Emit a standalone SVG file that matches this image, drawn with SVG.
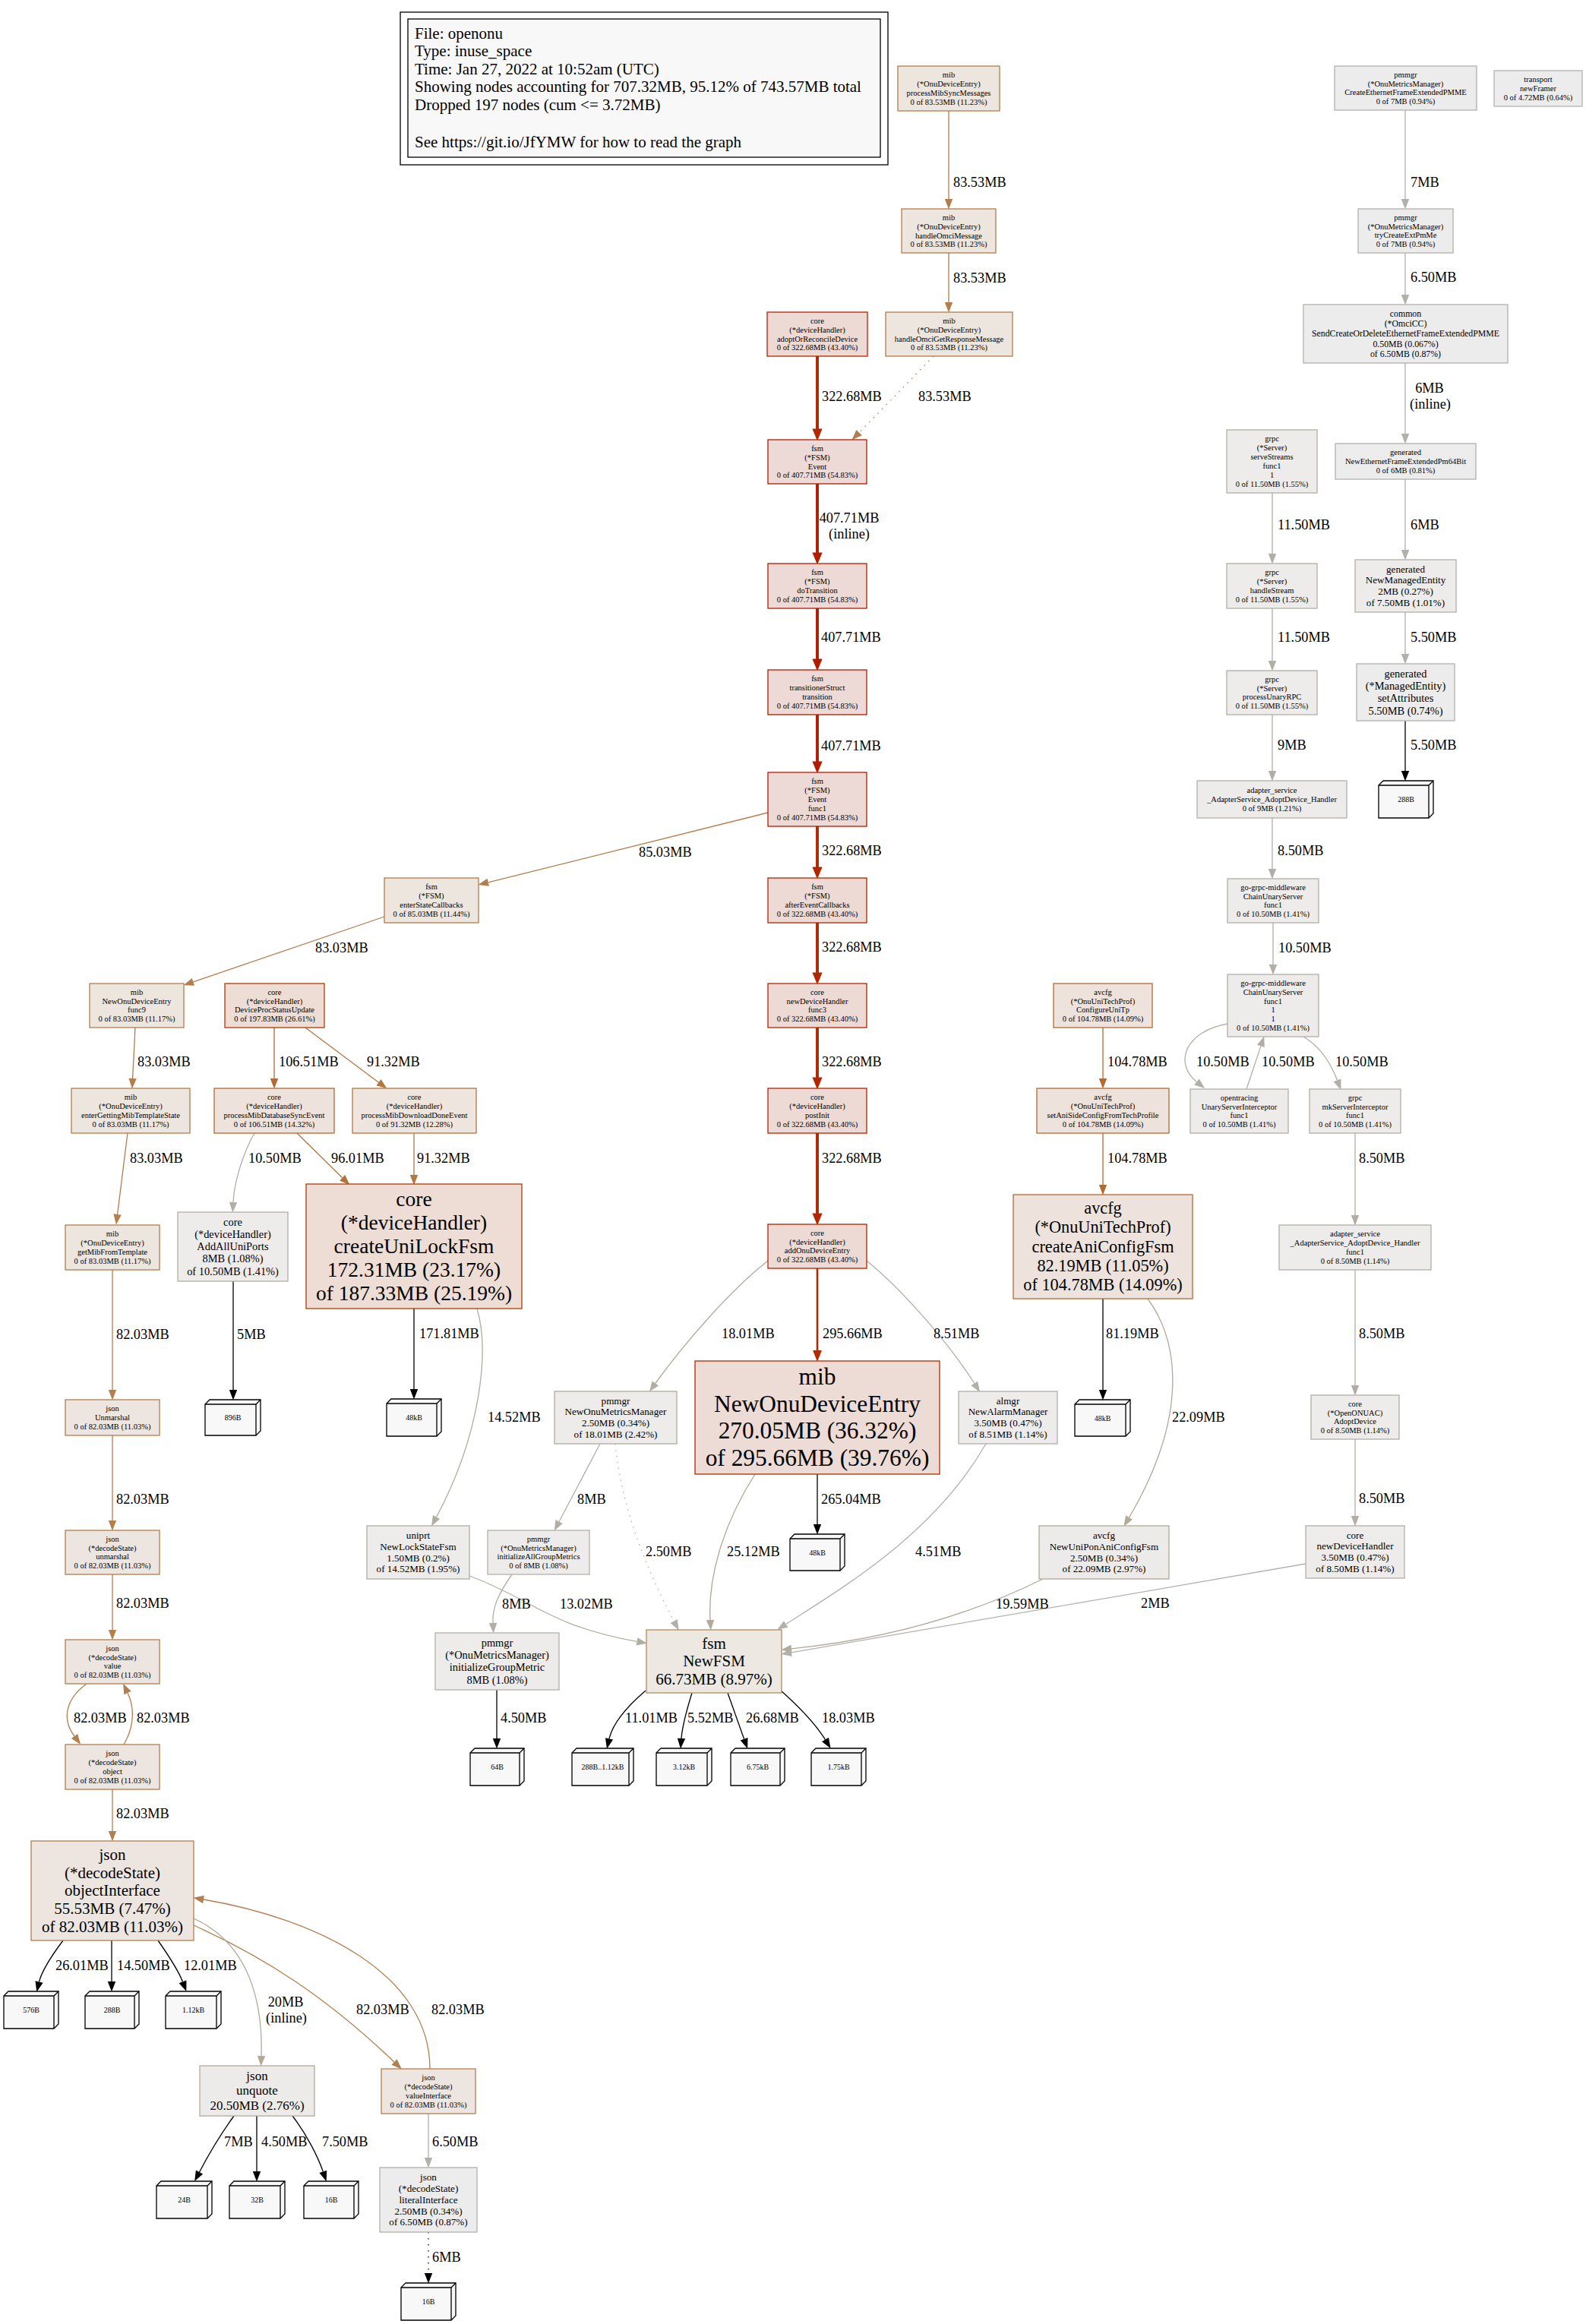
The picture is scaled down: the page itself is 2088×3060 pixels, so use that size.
<svg xmlns="http://www.w3.org/2000/svg" width="2088" height="3060" viewBox="0 0 2088 3060">
<style>
text{font-family:"Liberation Serif","Times New Roman",serif;fill:#000}
.n text{text-anchor:middle}
.n rect{stroke-width:1.31}
.f8{font-size:10.5px}.f9{font-size:11.8px}.f10{font-size:13.1px}.f11{font-size:14.4px}.f13{font-size:17px}.f16{font-size:21px}.f17{font-size:22.3px}.f21{font-size:27.5px}.f24{font-size:31.4px}
.lf{fill:#f8f8f8;stroke:#000;stroke-width:1.31;stroke-linejoin:miter}
.lfl{fill:none;stroke:#000;stroke-width:1.31}
.lt{font-size:10px;text-anchor:middle}
.e{fill:none;stroke-width:1.31}
.r3{stroke-width:3.9}
.r2{stroke-width:2.6}
.dot{stroke-dasharray:1.5 6.5}
.el{font-size:18.3px}
.elm{font-size:18.3px;text-anchor:middle}
.leg{font-size:21px}
</style>
<defs>
<marker id="mR1" viewBox="-2 -7 17 14" markerWidth="17" markerHeight="14" refX="0" refY="0" orient="auto" markerUnits="userSpaceOnUse" overflow="visible"><path d="M-1.5,-6.6 L14.5,0 L-1.5,6.6 Z" fill="#b21d00"/></marker>
<marker id="mR2" viewBox="-2 -7 17 14" markerWidth="17" markerHeight="14" refX="0" refY="0" orient="auto" markerUnits="userSpaceOnUse" overflow="visible"><path d="M-1.5,-6.6 L14.5,0 L-1.5,6.6 Z" fill="#b22700"/></marker>
<marker id="mR3" viewBox="-1 -6 15 12" markerWidth="15" markerHeight="12" refX="0" refY="0" orient="auto" markerUnits="userSpaceOnUse" overflow="visible"><path d="M-1,-5.9 L14,0 L-1,5.9 Z" fill="#b22b00"/></marker>
<marker id="mB1" viewBox="0 -6 14 12" markerWidth="14" markerHeight="12" refX="0" refY="0" orient="auto" markerUnits="userSpaceOnUse" overflow="visible"><path d="M0,-5.2 L13.6,0 L0,5.2 Z" fill="#b26b32"/></marker>
<marker id="mB2" viewBox="0 -6 14 12" markerWidth="14" markerHeight="12" refX="0" refY="0" orient="auto" markerUnits="userSpaceOnUse" overflow="visible"><path d="M0,-5.2 L13.6,0 L0,5.2 Z" fill="#b2743f"/></marker>
<marker id="mB3" viewBox="0 -6 14 12" markerWidth="14" markerHeight="12" refX="0" refY="0" orient="auto" markerUnits="userSpaceOnUse" overflow="visible"><path d="M0,-5.2 L13.6,0 L0,5.2 Z" fill="#b27844"/></marker>
<marker id="mB4" viewBox="0 -6 14 12" markerWidth="14" markerHeight="12" refX="0" refY="0" orient="auto" markerUnits="userSpaceOnUse" overflow="visible"><path d="M0,-5.2 L13.6,0 L0,5.2 Z" fill="#b27e4e"/></marker>
<marker id="mB5" viewBox="0 -6 14 12" markerWidth="14" markerHeight="12" refX="0" refY="0" orient="auto" markerUnits="userSpaceOnUse" overflow="visible"><path d="M0,-5.2 L13.6,0 L0,5.2 Z" fill="#b27f50"/></marker>
<marker id="mG1" viewBox="0 -6 14 12" markerWidth="14" markerHeight="12" refX="0" refY="0" orient="auto" markerUnits="userSpaceOnUse" overflow="visible"><path d="M0,-5.2 L13.6,0 L0,5.2 Z" fill="#b2a998"/></marker>
<marker id="mG2" viewBox="0 -6 14 12" markerWidth="14" markerHeight="12" refX="0" refY="0" orient="auto" markerUnits="userSpaceOnUse" overflow="visible"><path d="M0,-5.2 L13.6,0 L0,5.2 Z" fill="#b2ada1"/></marker>
<marker id="mG3" viewBox="0 -6 14 12" markerWidth="14" markerHeight="12" refX="0" refY="0" orient="auto" markerUnits="userSpaceOnUse" overflow="visible"><path d="M0,-5.2 L13.6,0 L0,5.2 Z" fill="#b2aea5"/></marker>
<marker id="mG4" viewBox="0 -6 14 12" markerWidth="14" markerHeight="12" refX="0" refY="0" orient="auto" markerUnits="userSpaceOnUse" overflow="visible"><path d="M0,-5.2 L13.6,0 L0,5.2 Z" fill="#b2b0ab"/></marker>
<marker id="mK" viewBox="0 -6 14 12" markerWidth="14" markerHeight="12" refX="0" refY="0" orient="auto" markerUnits="userSpaceOnUse" overflow="visible"><path d="M0,-5.2 L13.6,0 L0,5.2 Z" fill="#000"/></marker>
</defs>
<rect x="0" y="0" width="2088" height="3060" fill="#fff"/>

<g id="legend">
<rect x="527" y="16" width="642" height="201" fill="none" stroke="#000" stroke-width="1.31"/>
<rect x="537" y="25" width="622" height="182" fill="#f8f8f8" stroke="#000" stroke-width="1.31"/>
<text class="leg"><tspan x="546" y="51">File: openonu</tspan><tspan x="546" y="74">Type: inuse_space</tspan><tspan x="546" y="98">Time: Jan 27, 2022 at 10:52am (UTC)</tspan><tspan x="546" y="121">Showing nodes accounting for 707.32MB, 95.12% of 743.57MB total</tspan><tspan x="546" y="145">Dropped 197 nodes (cum &lt;= 3.72MB)</tspan><tspan x="546" y="194">See https://git.io/JfYMW for how to read the graph</tspan></text>
</g>

<g id="edges">
<path class="e" d="M1249,146 V262" stroke="#b27e4e" marker-end="url(#mB4)"/>
<path class="e" d="M1249,333 V398" stroke="#b27e4e" marker-end="url(#mB4)"/>
<path class="e dot" d="M1229,469 L1131.1,569.6" stroke="#b27e4e" marker-end="url(#mB4)"/>
<path class="e r3" d="M1076,469 V566" stroke="#b22700" marker-end="url(#mR2)"/>
<path class="e r3" d="M1076,637 V729" stroke="#b21d00" marker-end="url(#mR1)"/>
<path class="e r3" d="M1076,801 V869" stroke="#b21d00" marker-end="url(#mR1)"/>
<path class="e r3" d="M1076,941 V1004" stroke="#b21d00" marker-end="url(#mR1)"/>
<path class="e r3" d="M1076,1088 V1143" stroke="#b22700" marker-end="url(#mR2)"/>
<path class="e r3" d="M1076,1215 V1282" stroke="#b22700" marker-end="url(#mR2)"/>
<path class="e r3" d="M1076,1353 V1420" stroke="#b22700" marker-end="url(#mR2)"/>
<path class="e r3" d="M1076,1492 V1599" stroke="#b22700" marker-end="url(#mR2)"/>
<path class="e" d="M1011,1070 L642.7,1161.8" stroke="#b27d4c" marker-end="url(#mB4)"/>
<path class="e" d="M506,1207 L254.4,1292.8" stroke="#b27e4f" marker-end="url(#mB4)"/>
<path class="e" d="M178,1353 L174.6,1420" stroke="#b27e4f" marker-end="url(#mB4)"/>
<path class="e" d="M168,1492 L154.6,1599" stroke="#b27e4f" marker-end="url(#mB4)"/>
<path class="e" d="M361,1353 V1420" stroke="#b26b32" marker-end="url(#mB1)"/>
<path class="e" d="M402,1353 L498.5,1425.2" stroke="#b27844" marker-end="url(#mB3)"/>
<path class="e" d="M335,1492 C318,1522 308,1560 307,1583" stroke="#b2aea5" marker-end="url(#mG3)"/>
<path class="e" d="M391,1492 L450.7,1550.8" stroke="#b2743f" marker-end="url(#mB2)"/>
<path class="e" d="M545,1492 V1547" stroke="#b27844" marker-end="url(#mB3)"/>
<path class="e" d="M148,1672 V1830" stroke="#b27f50" marker-end="url(#mB5)"/>
<path class="e" d="M148,1890 V2002" stroke="#b27f50" marker-end="url(#mB5)"/>
<path class="e" d="M148,2073 V2146" stroke="#b27f50" marker-end="url(#mB5)"/>
<path class="e" d="M114,2217 C88,2236 80,2262 98,2286" stroke="#b27f50" marker-end="url(#mB5)"/>
<path class="e" d="M163,2297 C176,2275 178,2250 168,2229" stroke="#b27f50" marker-end="url(#mB5)"/>
<path class="e" d="M148,2356 V2411" stroke="#b27f50" marker-end="url(#mB5)"/>
<path class="e" d="M255,2535 C350,2578 430,2630 519,2715" stroke="#b27f50" marker-end="url(#mB5)"/>
<path class="e" d="M566,2724 C566,2600 420,2527 268,2501" stroke="#b27f50" marker-end="url(#mB5)"/>
<path class="e" d="M255,2526 C330,2560 346,2640 344,2707" stroke="#b2aa9a" marker-end="url(#mG1)"/>
<path class="e" d="M564,2783 V2841" stroke="#b2b0ab" marker-end="url(#mG4)"/>
<path class="e dot" d="M564,2939 V2993" stroke="#000" marker-end="url(#mK)"/>
<path class="e" d="M83,2555 C68,2575 55,2595 51.5,2609.5" stroke="#000" marker-end="url(#mK)"/>
<path class="e" d="M147,2555 V2609" stroke="#000" marker-end="url(#mK)"/>
<path class="e" d="M208,2555 C222,2575 235,2595 240.5,2609.4" stroke="#000" marker-end="url(#mK)"/>
<path class="e" d="M308,2786 C292,2808 274,2838 262.5,2860" stroke="#000" marker-end="url(#mK)"/>
<path class="e" d="M338,2786 V2859" stroke="#000" marker-end="url(#mK)"/>
<path class="e" d="M385,2786 C402,2808 418,2838 425.3,2859.4" stroke="#000" marker-end="url(#mK)"/>
<path class="e" d="M307,1687 V1830" stroke="#000" marker-end="url(#mK)"/>
<path class="e" d="M545,1723 V1829" stroke="#000" marker-end="url(#mK)"/>
<path class="e" d="M628,1723 C645,1780 632,1890 574.5,1997.5" stroke="#b2ada1" marker-end="url(#mG2)"/>
<path class="e" d="M1011,1660 C960,1700 900,1770 862.8,1821.5" stroke="#b2ab9c" marker-end="url(#mG2)"/>
<path class="e r2" d="M1076,1670 V1779" stroke="#b22b00" marker-end="url(#mR3)"/>
<path class="e" d="M1141,1660 C1190,1700 1250,1770 1282.8,1821.5" stroke="#b2afa8" marker-end="url(#mG3)"/>
<path class="e" d="M1076,1941 V2007" stroke="#000" marker-end="url(#mK)"/>
<path class="e" d="M994,1941 C950,2010 932,2080 935,2133" stroke="#b2a794" marker-end="url(#mG1)"/>
<path class="e" d="M1298,1901 C1230,2020 1110,2090 1034.7,2138.5" stroke="#b2b1ad" marker-end="url(#mG4)"/>
<path class="e" d="M790,1901 L736.1,2003.5" stroke="#b2afa9" marker-end="url(#mG3)"/>
<path class="e dot" d="M810,1901 C818,1990 858,2080 887.2,2134.5" stroke="#b2b1af" marker-end="url(#mG4)"/>
<path class="e" d="M674,2073 C655,2100 648,2118 649,2137" stroke="#b2afa9" marker-end="url(#mG3)"/>
<path class="e" d="M618,2075 C700,2105 720,2140 838.5,2161.4" stroke="#b2ada2" marker-end="url(#mG2)"/>
<path class="e" d="M1373,2079 C1250,2140 1130,2162 1042,2170.8" stroke="#b2aa9b" marker-end="url(#mG1)"/>
<path class="e" d="M1719,2059 L1041.9,2175.8" stroke="#b2b1b0" marker-end="url(#mG4)"/>
<path class="e" d="M1511,1710 C1555,1770 1562,1870 1486.5,1998" stroke="#b2a998" marker-end="url(#mG1)"/>
<path class="e" d="M1452,1710 V1830" stroke="#000" marker-end="url(#mK)"/>
<path class="e" d="M1452,1353 V1420" stroke="#b26c34" marker-end="url(#mB1)"/>
<path class="e" d="M1452,1492 V1560" stroke="#b26c34" marker-end="url(#mB1)"/>
<path class="e" d="M654,2225 V2289" stroke="#000" marker-end="url(#mK)"/>
<path class="e" d="M850,2226 C822,2250 806,2272 802,2289.4" stroke="#000" marker-end="url(#mK)"/>
<path class="e" d="M911,2229 C903,2255 898,2275 897,2289" stroke="#000" marker-end="url(#mK)"/>
<path class="e" d="M958,2229 L979.6,2289.7" stroke="#000" marker-end="url(#mK)"/>
<path class="e" d="M1027,2225 C1055,2250 1075,2272 1086.5,2290.6" stroke="#000" marker-end="url(#mK)"/>
<path class="e" d="M1850,145 V262" stroke="#b2b0aa" marker-end="url(#mG4)"/>
<path class="e" d="M1850,333 V388" stroke="#b2b0ab" marker-end="url(#mG4)"/>
<path class="e" d="M1850,478 V571" stroke="#b2b0ac" marker-end="url(#mG4)"/>
<path class="e" d="M1850,631 V724" stroke="#b2b0ac" marker-end="url(#mG4)"/>
<path class="e" d="M1850,806 V861" stroke="#b2b0ac" marker-end="url(#mG4)"/>
<path class="e" d="M1850,949 V1015" stroke="#000" marker-end="url(#mK)"/>
<path class="e" d="M1675,649 V729" stroke="#b2aea4" marker-end="url(#mG3)"/>
<path class="e" d="M1675,801 V870" stroke="#b2aea4" marker-end="url(#mG3)"/>
<path class="e" d="M1675,941 V1015" stroke="#b2afa7" marker-end="url(#mG3)"/>
<path class="e" d="M1675,1077 V1144" stroke="#b2afa8" marker-end="url(#mG3)"/>
<path class="e" d="M1676,1215 V1270" stroke="#b2aea5" marker-end="url(#mG3)"/>
<path class="e" d="M1616,1348 C1560,1358 1545,1400 1575.5,1424.5" stroke="#b2aea5" marker-end="url(#mG3)"/>
<path class="e" d="M1641,1434 L1659.9,1377.4" stroke="#b2aea5" marker-end="url(#mG3)"/>
<path class="e" d="M1716,1365 C1738,1378 1752,1400 1760.5,1422.3" stroke="#b2aea5" marker-end="url(#mG3)"/>
<path class="e" d="M1784,1492 V1600" stroke="#b2afa8" marker-end="url(#mG3)"/>
<path class="e" d="M1784,1672 V1824" stroke="#b2afa8" marker-end="url(#mG3)"/>
<path class="e" d="M1784,1895 V1996" stroke="#b2afa8" marker-end="url(#mG3)"/>

<text class="el" x="1255" y="246">83.53MB</text>
<text class="el" x="1255" y="372">83.53MB</text>
<text class="el" x="1209" y="528">83.53MB</text>
<text class="el" x="1082" y="528">322.68MB</text>
<text class="elm"><tspan x="1118" y="688">407.71MB</tspan><tspan x="1118" y="709">(inline)</tspan></text>
<text class="el" x="1081" y="845">407.71MB</text>
<text class="el" x="1081" y="988">407.71MB</text>
<text class="el" x="1082" y="1126">322.68MB</text>
<text class="el" x="1082" y="1253">322.68MB</text>
<text class="el" x="1082" y="1404">322.68MB</text>
<text class="el" x="1082" y="1531">322.68MB</text>
<text class="el" x="841" y="1128">85.03MB</text>
<text class="el" x="415" y="1254">83.03MB</text>
<text class="el" x="181" y="1404">83.03MB</text>
<text class="el" x="171" y="1531">83.03MB</text>
<text class="el" x="367" y="1404">106.51MB</text>
<text class="el" x="483" y="1404">91.32MB</text>
<text class="el" x="327" y="1531">10.50MB</text>
<text class="el" x="436" y="1531">96.01MB</text>
<text class="el" x="549" y="1531">91.32MB</text>
<text class="el" x="153" y="1763">82.03MB</text>
<text class="el" x="153" y="1980">82.03MB</text>
<text class="el" x="153" y="2117">82.03MB</text>
<text class="el" x="97" y="2268">82.03MB</text>
<text class="el" x="180" y="2268">82.03MB</text>
<text class="el" x="153" y="2394">82.03MB</text>
<text class="el" x="312" y="1763">5MB</text>
<text class="el" x="552" y="1762">171.81MB</text>
<text class="el" x="950" y="1762">18.01MB</text>
<text class="el" x="1083" y="1762">295.66MB</text>
<text class="el" x="1229" y="1762">8.51MB</text>
<text class="el" x="1456" y="1762">81.19MB</text>
<text class="el" x="1789" y="1762">8.50MB</text>
<text class="el" x="642" y="1872">14.52MB</text>
<text class="el" x="1543" y="1872">22.09MB</text>
<text class="el" x="1081" y="1980">265.04MB</text>
<text class="el" x="760" y="1980">8MB</text>
<text class="el" x="1789" y="1979">8.50MB</text>
<text class="el" x="850" y="2049">2.50MB</text>
<text class="el" x="957" y="2049">25.12MB</text>
<text class="el" x="1205" y="2049">4.51MB</text>
<text class="el" x="661" y="2118">8MB</text>
<text class="el" x="737" y="2118">13.02MB</text>
<text class="el" x="1311" y="2118">19.59MB</text>
<text class="el" x="1502" y="2117">2MB</text>
<text class="el" x="659" y="2268">4.50MB</text>
<text class="el" x="823" y="2268">11.01MB</text>
<text class="el" x="905" y="2268">5.52MB</text>
<text class="el" x="982" y="2268">26.68MB</text>
<text class="el" x="1082" y="2268">18.03MB</text>
<text class="el" x="73" y="2594">26.01MB</text>
<text class="el" x="154" y="2594">14.50MB</text>
<text class="el" x="242" y="2594">12.01MB</text>
<text class="elm"><tspan x="376" y="2642">20MB</tspan><tspan x="377" y="2663">(inline)</tspan></text>
<text class="el" x="469" y="2652">82.03MB</text>
<text class="el" x="568" y="2652">82.03MB</text>
<text class="el" x="295" y="2826">7MB</text>
<text class="el" x="344" y="2826">4.50MB</text>
<text class="el" x="424" y="2826">7.50MB</text>
<text class="el" x="569" y="2826">6.50MB</text>
<text class="el" x="569" y="2978">6MB</text>
<text class="el" x="1857" y="246">7MB</text>
<text class="el" x="1857" y="371">6.50MB</text>
<text class="elm"><tspan x="1882" y="517">6MB</tspan><tspan x="1883" y="538">(inline)</tspan></text>
<text class="el" x="1857" y="697">6MB</text>
<text class="el" x="1857" y="845">5.50MB</text>
<text class="el" x="1857" y="987">5.50MB</text>
<text class="el" x="1682" y="697">11.50MB</text>
<text class="el" x="1682" y="845">11.50MB</text>
<text class="el" x="1682" y="987">9MB</text>
<text class="el" x="1682" y="1126">8.50MB</text>
<text class="el" x="1683" y="1254">10.50MB</text>
<text class="el" x="1575" y="1404">10.50MB</text>
<text class="el" x="1661" y="1404">10.50MB</text>
<text class="el" x="1758" y="1404">10.50MB</text>
<text class="el" x="1789" y="1531">8.50MB</text>
<text class="el" x="1458" y="1404">104.78MB</text>
<text class="el" x="1458" y="1531">104.78MB</text>
</g>

<g id="n-processMibSyncMessages" class="n"><rect x="1182" y="87" width="134" height="59" fill="#ede6df" stroke="#b27e4e"/><text class="f8"><tspan x="1249" y="102">mib</tspan><tspan x="1249" y="114">(*OnuDeviceEntry)</tspan><tspan x="1249" y="126">processMibSyncMessages</tspan><tspan x="1249" y="137.8">0 of 83.53MB (11.23%)</tspan></text></g>
<g id="n-handleOmciMessage" class="n"><rect x="1187" y="275" width="124" height="58" fill="#ede6df" stroke="#b27e4e"/><text class="f8"><tspan x="1249" y="289.5">mib</tspan><tspan x="1249" y="301.5">(*OnuDeviceEntry)</tspan><tspan x="1249" y="313.5">handleOmciMessage</tspan><tspan x="1249" y="325.4">0 of 83.53MB (11.23%)</tspan></text></g>
<g id="n-adoptOrReconcileDevice" class="n"><rect x="1010" y="411" width="132" height="58" fill="#eddad5" stroke="#b22700"/><text class="f8"><tspan x="1076" y="425.5">core</tspan><tspan x="1076" y="437.5">(*deviceHandler)</tspan><tspan x="1076" y="449.5">adoptOrReconcileDevice</tspan><tspan x="1076" y="461.3">0 of 322.68MB (43.40%)</tspan></text></g>
<g id="n-handleOmciGetResponseMessage" class="n"><rect x="1166" y="411" width="167" height="58" fill="#ede6df" stroke="#b27e4e"/><text class="f8"><tspan x="1249.5" y="425.5">mib</tspan><tspan x="1249.5" y="437.5">(*OnuDeviceEntry)</tspan><tspan x="1249.5" y="449.5">handleOmciGetResponseMessage</tspan><tspan x="1249.5" y="461.3">0 of 83.53MB (11.23%)</tspan></text></g>
<g id="n-fsm-Event" class="n"><rect x="1011" y="579" width="130" height="58" fill="#edd9d5" stroke="#b21d00"/><text class="f8"><tspan x="1076" y="593.5">fsm</tspan><tspan x="1076" y="605.5">(*FSM)</tspan><tspan x="1076" y="617.5">Event</tspan><tspan x="1076" y="629.3">0 of 407.71MB (54.83%)</tspan></text></g>
<g id="n-doTransition" class="n"><rect x="1011" y="742" width="130" height="59" fill="#edd9d5" stroke="#b21d00"/><text class="f8"><tspan x="1076" y="757">fsm</tspan><tspan x="1076" y="769">(*FSM)</tspan><tspan x="1076" y="781">doTransition</tspan><tspan x="1076" y="792.8">0 of 407.71MB (54.83%)</tspan></text></g>
<g id="n-transition" class="n"><rect x="1011" y="882" width="130" height="59" fill="#edd9d5" stroke="#b21d00"/><text class="f8"><tspan x="1076" y="897">fsm</tspan><tspan x="1076" y="909">transitionerStruct</tspan><tspan x="1076" y="921">transition</tspan><tspan x="1076" y="932.8">0 of 407.71MB (54.83%)</tspan></text></g>
<g id="n-Event-func1" class="n"><rect x="1011" y="1017" width="130" height="71" fill="#edd9d5" stroke="#b21d00"/><text class="f8"><tspan x="1076" y="1032.1">fsm</tspan><tspan x="1076" y="1044">(*FSM)</tspan><tspan x="1076" y="1055.9">Event</tspan><tspan x="1076" y="1067.8">func1</tspan><tspan x="1076" y="1079.7">0 of 407.71MB (54.83%)</tspan></text></g>
<g id="n-afterEventCallbacks" class="n"><rect x="1011" y="1156" width="130" height="59" fill="#eddad5" stroke="#b22700"/><text class="f8"><tspan x="1076" y="1171">fsm</tspan><tspan x="1076" y="1183">(*FSM)</tspan><tspan x="1076" y="1195">afterEventCallbacks</tspan><tspan x="1076" y="1206.8">0 of 322.68MB (43.40%)</tspan></text></g>
<g id="n-newDeviceHandler-func3" class="n"><rect x="1011" y="1295" width="130" height="58" fill="#eddad5" stroke="#b22700"/><text class="f8"><tspan x="1076" y="1309.5">core</tspan><tspan x="1076" y="1321.5">newDeviceHandler</tspan><tspan x="1076" y="1333.4">func3</tspan><tspan x="1076" y="1345.3">0 of 322.68MB (43.40%)</tspan></text></g>
<g id="n-postInit" class="n"><rect x="1011" y="1433" width="130" height="59" fill="#eddad5" stroke="#b22700"/><text class="f8"><tspan x="1076" y="1448">core</tspan><tspan x="1076" y="1460">(*deviceHandler)</tspan><tspan x="1076" y="1471.9">postInit</tspan><tspan x="1076" y="1483.8">0 of 322.68MB (43.40%)</tspan></text></g>
<g id="n-addOnuDeviceEntry" class="n"><rect x="1011" y="1612" width="130" height="58" fill="#eddad5" stroke="#b22700"/><text class="f8"><tspan x="1076" y="1626.5">core</tspan><tspan x="1076" y="1638.5">(*deviceHandler)</tspan><tspan x="1076" y="1650.4">addOnuDeviceEntry</tspan><tspan x="1076" y="1662.3">0 of 322.68MB (43.40%)</tspan></text></g>
<g id="n-enterStateCallbacks" class="n"><rect x="506" y="1156" width="124" height="59" fill="#ede6df" stroke="#b27d4c"/><text class="f8"><tspan x="568" y="1171">fsm</tspan><tspan x="568" y="1183">(*FSM)</tspan><tspan x="568" y="1195">enterStateCallbacks</tspan><tspan x="568" y="1206.8">0 of 85.03MB (11.44%)</tspan></text></g>
<g id="n-NewOnuDeviceEntry-func9" class="n"><rect x="118" y="1295" width="124" height="58" fill="#ede6df" stroke="#b27e4e"/><text class="f8"><tspan x="180" y="1309.5">mib</tspan><tspan x="180" y="1321.5">NewOnuDeviceEntry</tspan><tspan x="180" y="1333.4">func9</tspan><tspan x="180" y="1345.3">0 of 83.03MB (11.17%)</tspan></text></g>
<g id="n-DeviceProcStatusUpdate" class="n"><rect x="296" y="1295" width="131" height="58" fill="#edddd5" stroke="#b23a00"/><text class="f8"><tspan x="361.5" y="1309.5">core</tspan><tspan x="361.5" y="1321.5">(*deviceHandler)</tspan><tspan x="361.5" y="1333.4">DeviceProcStatusUpdate</tspan><tspan x="361.5" y="1345.3">0 of 197.83MB (26.61%)</tspan></text></g>
<g id="n-enterGettingMibTemplateState" class="n"><rect x="94" y="1433" width="156" height="59" fill="#ede6df" stroke="#b27e4e"/><text class="f8"><tspan x="172" y="1448">mib</tspan><tspan x="172" y="1460">(*OnuDeviceEntry)</tspan><tspan x="172" y="1471.9">enterGettingMibTemplateState</tspan><tspan x="172" y="1483.8">0 of 83.03MB (11.17%)</tspan></text></g>
<g id="n-processMibDatabaseSyncEvent" class="n"><rect x="282" y="1433" width="158" height="59" fill="#ede3dc" stroke="#b26b32"/><text class="f8"><tspan x="361" y="1448">core</tspan><tspan x="361" y="1460">(*deviceHandler)</tspan><tspan x="361" y="1471.9">processMibDatabaseSyncEvent</tspan><tspan x="361" y="1483.8">0 of 106.51MB (14.32%)</tspan></text></g>
<g id="n-processMibDownloadDoneEvent" class="n"><rect x="464" y="1433" width="163" height="59" fill="#ede5de" stroke="#b27844"/><text class="f8"><tspan x="545.5" y="1448">core</tspan><tspan x="545.5" y="1460">(*deviceHandler)</tspan><tspan x="545.5" y="1471.9">processMibDownloadDoneEvent</tspan><tspan x="545.5" y="1483.8">0 of 91.32MB (12.28%)</tspan></text></g>
<g id="n-getMibFromTemplate" class="n"><rect x="86" y="1613" width="124" height="59" fill="#ede6df" stroke="#b27e4e"/><text class="f8"><tspan x="148" y="1628">mib</tspan><tspan x="148" y="1640">(*OnuDeviceEntry)</tspan><tspan x="148" y="1651.9">getMibFromTemplate</tspan><tspan x="148" y="1663.8">0 of 83.03MB (11.17%)</tspan></text></g>
<g id="n-AddAllUniPorts" class="n"><rect x="234" y="1596" width="145" height="91" fill="#edeceb" stroke="#b2aea5"/><text class="f11"><tspan x="306.5" y="1613.6">core</tspan><tspan x="306.5" y="1629.8">(*deviceHandler)</tspan><tspan x="306.5" y="1646.1">AddAllUniPorts</tspan><tspan x="306.5" y="1662.4">8MB (1.08%)</tspan><tspan x="306.5" y="1678.6">of 10.50MB (1.41%)</tspan></text></g>
<g id="n-createUniLockFsm" class="n"><rect x="403" y="1559" width="284" height="164" fill="#edddd5" stroke="#b23c00"/><text class="f21"><tspan x="545" y="1587.6">core</tspan><tspan x="545" y="1618.7">(*deviceHandler)</tspan><tspan x="545" y="1649.8">createUniLockFsm</tspan><tspan x="545" y="1680.9">172.31MB (23.17%)</tspan><tspan x="545" y="1712">of 187.33MB (25.19%)</tspan></text></g>
<g id="n-json-Unmarshal" class="n"><rect x="86" y="1843" width="124" height="47" fill="#ede6e0" stroke="#b27f50"/><text class="f8"><tspan x="148" y="1858">json</tspan><tspan x="148" y="1869.9">Unmarshal</tspan><tspan x="148" y="1881.8">0 of 82.03MB (11.03%)</tspan></text></g>
<g id="n-json-unmarshal" class="n"><rect x="86" y="2015" width="124" height="58" fill="#ede6e0" stroke="#b27f50"/><text class="f8"><tspan x="148" y="2029.5">json</tspan><tspan x="148" y="2041.5">(*decodeState)</tspan><tspan x="148" y="2053.4">unmarshal</tspan><tspan x="148" y="2065.3">0 of 82.03MB (11.03%)</tspan></text></g>
<g id="n-json-value" class="n"><rect x="86" y="2159" width="124" height="58" fill="#ede6e0" stroke="#b27f50"/><text class="f8"><tspan x="148" y="2173.5">json</tspan><tspan x="148" y="2185.5">(*decodeState)</tspan><tspan x="148" y="2197.4">value</tspan><tspan x="148" y="2209.3">0 of 82.03MB (11.03%)</tspan></text></g>
<g id="n-json-object" class="n"><rect x="86" y="2297" width="124" height="59" fill="#ede6e0" stroke="#b27f50"/><text class="f8"><tspan x="148" y="2312">json</tspan><tspan x="148" y="2324">(*decodeState)</tspan><tspan x="148" y="2335.9">object</tspan><tspan x="148" y="2347.8">0 of 82.03MB (11.03%)</tspan></text></g>
<g id="n-json-objectInterface" class="n"><rect x="41" y="2424" width="214" height="131" fill="#ede6e0" stroke="#b27f50"/><text class="f16"><tspan x="148" y="2448.8">json</tspan><tspan x="148" y="2472.5">(*decodeState)</tspan><tspan x="148" y="2496.2">objectInterface</tspan><tspan x="148" y="2519.9">55.53MB (7.47%)</tspan><tspan x="148" y="2543.6">of 82.03MB (11.03%)</tspan></text></g>
<g id="n-json-unquote" class="n"><rect x="263" y="2720" width="151" height="66" fill="#edebe9" stroke="#b2aa99"/><text class="f13"><tspan x="338.5" y="2739.2">json</tspan><tspan x="338.5" y="2758.4">unquote</tspan><tspan x="338.5" y="2777.6">20.50MB (2.76%)</tspan></text></g>
<g id="n-json-valueInterface" class="n"><rect x="502" y="2724" width="124" height="59" fill="#ede6e0" stroke="#b27f50"/><text class="f8"><tspan x="564" y="2739">json</tspan><tspan x="564" y="2751">(*decodeState)</tspan><tspan x="564" y="2762.9">valueInterface</tspan><tspan x="564" y="2774.8">0 of 82.03MB (11.03%)</tspan></text></g>
<g id="n-json-literalInterface" class="n"><rect x="500" y="2854" width="128" height="85" fill="#edecec" stroke="#b2b0ab"/><text class="f10"><tspan x="564" y="2871.1">json</tspan><tspan x="564" y="2885.9">(*decodeState)</tspan><tspan x="564" y="2900.7">literalInterface</tspan><tspan x="564" y="2915.5">2.50MB (0.34%)</tspan><tspan x="564" y="2930.3">of 6.50MB (0.87%)</tspan></text></g>
<g id="n-NewOnuMetricsManager" class="n"><rect x="730" y="1832" width="161" height="69" fill="#edecea" stroke="#b2ab9c"/><text class="f10"><tspan x="810.5" y="1848.5">pmmgr</tspan><tspan x="810.5" y="1863.3">NewOnuMetricsManager</tspan><tspan x="810.5" y="1878.1">2.50MB (0.34%)</tspan><tspan x="810.5" y="1892.9">of 18.01MB (2.42%)</tspan></text></g>
<g id="n-mib-NewOnuDeviceEntry" class="n"><rect x="915" y="1792" width="322" height="149" fill="#eddbd5" stroke="#b22b00"/><text class="f24"><tspan x="1076" y="1823.3">mib</tspan><tspan x="1076" y="1858.8">NewOnuDeviceEntry</tspan><tspan x="1076" y="1894.3">270.05MB (36.32%)</tspan><tspan x="1076" y="1929.8">of 295.66MB (39.76%)</tspan></text></g>
<g id="n-NewAlarmManager" class="n"><rect x="1262" y="1832" width="130" height="69" fill="#edeceb" stroke="#b2afa8"/><text class="f10"><tspan x="1327" y="1848.5">almgr</tspan><tspan x="1327" y="1863.3">NewAlarmManager</tspan><tspan x="1327" y="1878.1">3.50MB (0.47%)</tspan><tspan x="1327" y="1892.9">of 8.51MB (1.14%)</tspan></text></g>
<g id="n-NewLockStateFsm" class="n"><rect x="483" y="2009" width="135" height="70" fill="#edecea" stroke="#b2ada1"/><text class="f10"><tspan x="550.5" y="2026">uniprt</tspan><tspan x="550.5" y="2040.8">NewLockStateFsm</tspan><tspan x="550.5" y="2055.6">1.50MB (0.2%)</tspan><tspan x="550.5" y="2070.4">of 14.52MB (1.95%)</tspan></text></g>
<g id="n-initializeAllGroupMetrics" class="n"><rect x="642" y="2015" width="134" height="58" fill="#edeceb" stroke="#b2b0a8"/><text class="f8"><tspan x="709" y="2029.5">pmmgr</tspan><tspan x="709" y="2041.5">(*OnuMetricsManager)</tspan><tspan x="709" y="2053.4">initializeAllGroupMetrics</tspan><tspan x="709" y="2065.3">0 of 8MB (1.08%)</tspan></text></g>
<g id="n-initializeGroupMetric" class="n"><rect x="573" y="2150" width="163" height="75" fill="#edeceb" stroke="#b2b0a8"/><text class="f11"><tspan x="654.5" y="2167.7">pmmgr</tspan><tspan x="654.5" y="2184">(*OnuMetricsManager)</tspan><tspan x="654.5" y="2200.2">initializeGroupMetric</tspan><tspan x="654.5" y="2216.5">8MB (1.08%)</tspan></text></g>
<g id="n-NewFSM" class="n"><rect x="851" y="2146" width="178" height="83" fill="#ede8e2" stroke="#b28b62"/><text class="f16"><tspan x="940" y="2170.5">fsm</tspan><tspan x="940" y="2194.2">NewFSM</tspan><tspan x="940" y="2217.9">66.73MB (8.97%)</tspan></text></g>
<g id="n-ConfigureUniTp" class="n"><rect x="1387" y="1295" width="130" height="58" fill="#ede3dc" stroke="#b26c34"/><text class="f8"><tspan x="1452" y="1309.5">avcfg</tspan><tspan x="1452" y="1321.5">(*OnuUniTechProf)</tspan><tspan x="1452" y="1333.4">ConfigureUniTp</tspan><tspan x="1452" y="1345.3">0 of 104.78MB (14.09%)</tspan></text></g>
<g id="n-setAniSideConfigFromTechProfile" class="n"><rect x="1365" y="1433" width="174" height="59" fill="#ede3dc" stroke="#b26c34"/><text class="f8"><tspan x="1452" y="1448">avcfg</tspan><tspan x="1452" y="1460">(*OnuUniTechProf)</tspan><tspan x="1452" y="1471.9">setAniSideConfigFromTechProfile</tspan><tspan x="1452" y="1483.8">0 of 104.78MB (14.09%)</tspan></text></g>
<g id="n-createAniConfigFsm" class="n"><rect x="1334" y="1573" width="236" height="137" fill="#ede3dc" stroke="#b26c34"/><text class="f17"><tspan x="1452" y="1598.2">avcfg</tspan><tspan x="1452" y="1623.4">(*OnuUniTechProf)</tspan><tspan x="1452" y="1648.6">createAniConfigFsm</tspan><tspan x="1452" y="1673.8">82.19MB (11.05%)</tspan><tspan x="1452" y="1699">of 104.78MB (14.09%)</tspan></text></g>
<g id="n-NewUniPonAniConfigFsm" class="n"><rect x="1368" y="2009" width="171" height="70" fill="#edebe9" stroke="#b2a998"/><text class="f10"><tspan x="1453.5" y="2026">avcfg</tspan><tspan x="1453.5" y="2040.8">NewUniPonAniConfigFsm</tspan><tspan x="1453.5" y="2055.6">2.50MB (0.34%)</tspan><tspan x="1453.5" y="2070.4">of 22.09MB (2.97%)</tspan></text></g>
<g id="n-CreateEthernetFrameExtendedPMME" class="n"><rect x="1757" y="87" width="187" height="58" fill="#edecec" stroke="#b2b0aa"/><text class="f8"><tspan x="1850.5" y="101.6">pmmgr</tspan><tspan x="1850.5" y="113.5">(*OnuMetricsManager)</tspan><tspan x="1850.5" y="125.4">CreateEthernetFrameExtendedPMME</tspan><tspan x="1850.5" y="137.3">0 of 7MB (0.94%)</tspan></text></g>
<g id="n-newFramer" class="n"><rect x="1967" y="93" width="116" height="47" fill="#edecec" stroke="#b2b1ac"/><text class="f8"><tspan x="2025" y="108">transport</tspan><tspan x="2025" y="119.9">newFramer</tspan><tspan x="2025" y="131.8">0 of 4.72MB (0.64%)</tspan></text></g>
<g id="n-tryCreateExtPmMe" class="n"><rect x="1788" y="275" width="125" height="58" fill="#edecec" stroke="#b2b0aa"/><text class="f8"><tspan x="1850.5" y="289.5">pmmgr</tspan><tspan x="1850.5" y="301.5">(*OnuMetricsManager)</tspan><tspan x="1850.5" y="313.4">tryCreateExtPmMe</tspan><tspan x="1850.5" y="325.3">0 of 7MB (0.94%)</tspan></text></g>
<g id="n-SendCreateOrDelete" class="n"><rect x="1716" y="401" width="269" height="77" fill="#edecec" stroke="#b2b0ab"/><text class="f9"><tspan x="1850.5" y="416.6">common</tspan><tspan x="1850.5" y="430">(*OmciCC)</tspan><tspan x="1850.5" y="443.3">SendCreateOrDeleteEthernetFrameExtendedPMME</tspan><tspan x="1850.5" y="456.6">0.50MB (0.067%)</tspan><tspan x="1850.5" y="470">of 6.50MB (0.87%)</tspan></text></g>
<g id="n-NewEthernetFrameExtendedPm64Bit" class="n"><rect x="1758" y="584" width="185" height="47" fill="#edecec" stroke="#b2b0ac"/><text class="f8"><tspan x="1850.5" y="599">generated</tspan><tspan x="1850.5" y="610.9">NewEthernetFrameExtendedPm64Bit</tspan><tspan x="1850.5" y="622.8">0 of 6MB (0.81%)</tspan></text></g>
<g id="n-NewManagedEntity" class="n"><rect x="1784" y="737" width="133" height="69" fill="#edeceb" stroke="#b2b0a9"/><text class="f10"><tspan x="1850.5" y="753.5">generated</tspan><tspan x="1850.5" y="768.3">NewManagedEntity</tspan><tspan x="1850.5" y="783.1">2MB (0.27%)</tspan><tspan x="1850.5" y="797.9">of 7.50MB (1.01%)</tspan></text></g>
<g id="n-setAttributes" class="n"><rect x="1786" y="874" width="129" height="75" fill="#edecec" stroke="#b2b1ab"/><text class="f11"><tspan x="1850.5" y="891.7">generated</tspan><tspan x="1850.5" y="908">(*ManagedEntity)</tspan><tspan x="1850.5" y="924.2">setAttributes</tspan><tspan x="1850.5" y="940.5">5.50MB (0.74%)</tspan></text></g>
<g id="n-serveStreams" class="n"><rect x="1615" y="566" width="119" height="83" fill="#edeceb" stroke="#b2aea4"/><text class="f8"><tspan x="1674.5" y="581.2">grpc</tspan><tspan x="1674.5" y="593">(*Server)</tspan><tspan x="1674.5" y="605">serveStreams</tspan><tspan x="1674.5" y="616.9">func1</tspan><tspan x="1674.5" y="628.8">1</tspan><tspan x="1674.5" y="640.7">0 of 11.50MB (1.55%)</tspan></text></g>
<g id="n-handleStream" class="n"><rect x="1615" y="742" width="119" height="59" fill="#edeceb" stroke="#b2aea4"/><text class="f8"><tspan x="1674.5" y="757">grpc</tspan><tspan x="1674.5" y="769">(*Server)</tspan><tspan x="1674.5" y="781">handleStream</tspan><tspan x="1674.5" y="792.8">0 of 11.50MB (1.55%)</tspan></text></g>
<g id="n-processUnaryRPC" class="n"><rect x="1615" y="883" width="119" height="58" fill="#edeceb" stroke="#b2aea4"/><text class="f8"><tspan x="1674.5" y="897.5">grpc</tspan><tspan x="1674.5" y="909.5">(*Server)</tspan><tspan x="1674.5" y="921.4">processUnaryRPC</tspan><tspan x="1674.5" y="933.3">0 of 11.50MB (1.55%)</tspan></text></g>
<g id="n-AdoptDevice-Handler" class="n"><rect x="1576" y="1028" width="197" height="49" fill="#edeceb" stroke="#b2afa7"/><text class="f8"><tspan x="1674.5" y="1044">adapter_service</tspan><tspan x="1674.5" y="1055.9">_AdapterService_AdoptDevice_Handler</tspan><tspan x="1674.5" y="1067.8">0 of 9MB (1.21%)</tspan></text></g>
<g id="n-ChainUnaryServer-func1" class="n"><rect x="1616" y="1157" width="120" height="58" fill="#edeceb" stroke="#b2aea5"/><text class="f8"><tspan x="1676" y="1171.5">go-grpc-middleware</tspan><tspan x="1676" y="1183.5">ChainUnaryServer</tspan><tspan x="1676" y="1195.4">func1</tspan><tspan x="1676" y="1207.3">0 of 10.50MB (1.41%)</tspan></text></g>
<g id="n-ChainUnaryServer-func1-1-1" class="n"><rect x="1616" y="1283" width="120" height="82" fill="#edeceb" stroke="#b2aea5"/><text class="f8"><tspan x="1676" y="1297.7">go-grpc-middleware</tspan><tspan x="1676" y="1309.6">ChainUnaryServer</tspan><tspan x="1676" y="1321.5">func1</tspan><tspan x="1676" y="1333.4">1</tspan><tspan x="1676" y="1345.3">1</tspan><tspan x="1676" y="1357.2">0 of 10.50MB (1.41%)</tspan></text></g>
<g id="n-UnaryServerInterceptor" class="n"><rect x="1567" y="1434" width="129" height="58" fill="#edeceb" stroke="#b2aea5"/><text class="f8"><tspan x="1631.5" y="1448.5">opentracing</tspan><tspan x="1631.5" y="1460.5">UnaryServerInterceptor</tspan><tspan x="1631.5" y="1472.4">func1</tspan><tspan x="1631.5" y="1484.3">0 of 10.50MB (1.41%)</tspan></text></g>
<g id="n-mkServerInterceptor" class="n"><rect x="1724" y="1434" width="120" height="58" fill="#edeceb" stroke="#b2aea5"/><text class="f8"><tspan x="1784" y="1448.5">grpc</tspan><tspan x="1784" y="1460.5">mkServerInterceptor</tspan><tspan x="1784" y="1472.4">func1</tspan><tspan x="1784" y="1484.3">0 of 10.50MB (1.41%)</tspan></text></g>
<g id="n-AdoptDevice-Handler-func1" class="n"><rect x="1684" y="1613" width="200" height="59" fill="#edeceb" stroke="#b2afa8"/><text class="f8"><tspan x="1784" y="1628">adapter_service</tspan><tspan x="1784" y="1640">_AdapterService_AdoptDevice_Handler</tspan><tspan x="1784" y="1651.9">func1</tspan><tspan x="1784" y="1663.8">0 of 8.50MB (1.14%)</tspan></text></g>
<g id="n-OpenONUAC-AdoptDevice" class="n"><rect x="1726" y="1837" width="116" height="58" fill="#edeceb" stroke="#b2afa8"/><text class="f8"><tspan x="1784" y="1851.5">core</tspan><tspan x="1784" y="1863.5">(*OpenONUAC)</tspan><tspan x="1784" y="1875.4">AdoptDevice</tspan><tspan x="1784" y="1887.3">0 of 8.50MB (1.14%)</tspan></text></g>
<g id="n-newDeviceHandler" class="n"><rect x="1719" y="2009" width="130" height="69" fill="#edeceb" stroke="#b2afa8"/><text class="f10"><tspan x="1784" y="2025.5">core</tspan><tspan x="1784" y="2040.3">newDeviceHandler</tspan><tspan x="1784" y="2055.1">3.50MB (0.47%)</tspan><tspan x="1784" y="2069.9">of 8.50MB (1.14%)</tspan></text></g>

<g id="leaf-288B-a"><path class="lf" d="M1815,1034 L1821,1028 L1887,1028 L1887,1071 L1881,1077 L1815,1077 Z"/><path class="lfl" d="M1815,1034 L1881,1034 L1887,1028 M1881,1034 L1881,1077"/><text class="lt" x="1851" y="1056">288B</text></g>
<g id="leaf-896B"><path class="lf" d="M270,1849 L276,1843 L343,1843 L343,1884 L337,1890 L270,1890 Z"/><path class="lfl" d="M270,1849 L337,1849 L343,1843 M337,1849 L337,1890"/><text class="lt" x="306.5" y="1870">896B</text></g>
<g id="leaf-48kB-a"><path class="lf" d="M509,1848 L515,1842 L581,1842 L581,1885 L575,1891 L509,1891 Z"/><path class="lfl" d="M509,1848 L575,1848 L581,1842 M575,1848 L575,1891"/><text class="lt" x="545" y="1870">48kB</text></g>
<g id="leaf-48kB-b"><path class="lf" d="M1040,2026 L1046,2020 L1112,2020 L1112,2062 L1106,2068 L1040,2068 Z"/><path class="lfl" d="M1040,2026 L1106,2026 L1112,2020 M1106,2026 L1106,2068"/><text class="lt" x="1076" y="2047.5">48kB</text></g>
<g id="leaf-48kB-c"><path class="lf" d="M1415,1849 L1421,1843 L1488,1843 L1488,1885 L1482,1891 L1415,1891 Z"/><path class="lfl" d="M1415,1849 L1482,1849 L1488,1843 M1482,1849 L1482,1891"/><text class="lt" x="1451.5" y="1870.5">48kB</text></g>
<g id="leaf-64B"><path class="lf" d="M619,2308 L625,2302 L690,2302 L690,2345 L684,2351 L619,2351 Z"/><path class="lfl" d="M619,2308 L684,2308 L690,2302 M684,2308 L684,2351"/><text class="lt" x="654.5" y="2330">64B</text></g>
<g id="leaf-288B-1.12kB"><path class="lf" d="M753,2308 L759,2302 L834,2302 L834,2345 L828,2351 L753,2351 Z"/><path class="lfl" d="M753,2308 L828,2308 L834,2302 M828,2308 L828,2351"/><text class="lt" x="793.5" y="2330">288B..1.12kB</text></g>
<g id="leaf-3.12kB"><path class="lf" d="M864,2308 L870,2302 L937,2302 L937,2345 L931,2351 L864,2351 Z"/><path class="lfl" d="M864,2308 L931,2308 L937,2302 M931,2308 L931,2351"/><text class="lt" x="900.5" y="2330">3.12kB</text></g>
<g id="leaf-6.75kB"><path class="lf" d="M962,2308 L968,2302 L1033,2302 L1033,2345 L1027,2351 L962,2351 Z"/><path class="lfl" d="M962,2308 L1027,2308 L1033,2302 M1027,2308 L1027,2351"/><text class="lt" x="997.5" y="2330">6.75kB</text></g>
<g id="leaf-1.75kB"><path class="lf" d="M1068,2308 L1074,2302 L1140,2302 L1140,2345 L1134,2351 L1068,2351 Z"/><path class="lfl" d="M1068,2308 L1134,2308 L1140,2302 M1134,2308 L1134,2351"/><text class="lt" x="1104" y="2330">1.75kB</text></g>
<g id="leaf-576B"><path class="lf" d="M5,2628 L11,2622 L77,2622 L77,2665 L71,2671 L5,2671 Z"/><path class="lfl" d="M5,2628 L71,2628 L77,2622 M71,2628 L71,2671"/><text class="lt" x="41" y="2650">576B</text></g>
<g id="leaf-288B-b"><path class="lf" d="M112,2628 L118,2622 L183,2622 L183,2665 L177,2671 L112,2671 Z"/><path class="lfl" d="M112,2628 L177,2628 L183,2622 M177,2628 L177,2671"/><text class="lt" x="147.5" y="2650">288B</text></g>
<g id="leaf-1.12kB"><path class="lf" d="M218,2628 L224,2622 L291,2622 L291,2665 L285,2671 L218,2671 Z"/><path class="lfl" d="M218,2628 L285,2628 L291,2622 M285,2628 L285,2671"/><text class="lt" x="254.5" y="2650">1.12kB</text></g>
<g id="leaf-24B"><path class="lf" d="M206,2878 L212,2872 L279,2872 L279,2915 L273,2921 L206,2921 Z"/><path class="lfl" d="M206,2878 L273,2878 L279,2872 M273,2878 L273,2921"/><text class="lt" x="242.5" y="2900">24B</text></g>
<g id="leaf-32B"><path class="lf" d="M302,2878 L308,2872 L375,2872 L375,2915 L369,2921 L302,2921 Z"/><path class="lfl" d="M302,2878 L369,2878 L375,2872 M369,2878 L369,2921"/><text class="lt" x="338.5" y="2900">32B</text></g>
<g id="leaf-16B-a"><path class="lf" d="M400,2878 L406,2872 L472,2872 L472,2915 L466,2921 L400,2921 Z"/><path class="lfl" d="M400,2878 L466,2878 L472,2872 M466,2878 L466,2921"/><text class="lt" x="436" y="2900">16B</text></g>
<g id="leaf-16B-b"><path class="lf" d="M528,3012 L534,3006 L600,3006 L600,3049 L594,3055 L528,3055 Z"/><path class="lfl" d="M528,3012 L594,3012 L600,3006 M594,3012 L594,3055"/><text class="lt" x="564" y="3034">16B</text></g>
</svg>
